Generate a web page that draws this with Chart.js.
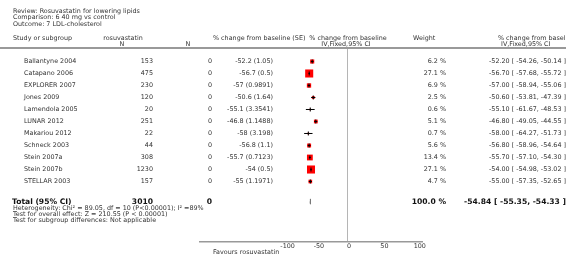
<!DOCTYPE html>
<html>
<head>
<meta charset="utf-8">
<script src="https://cdn.jsdelivr.net/npm/chart.js@4/dist/chart.umd.min.js"></script>
<style>
  html, body { margin:0; padding:0; background:#fff; }
  #wrap { position:relative; width:566px; height:265px; overflow:hidden; }
  #overlay { position:absolute; left:0; top:0; width:566px; height:265px; overflow:hidden; pointer-events:none; }
  .t { position:absolute; white-space:nowrap; font-family:"DejaVu Sans", sans-serif; font-size:6.4px; color:#333; }
  .b { font-weight:bold; font-size:7.6px; color:#111; }
  #hline { position:absolute; left:0; top:47px; width:566px; height:0; border-top:2px solid #999; }
</style>
</head>
<body>
<div id="wrap">
  <canvas id="c" width="566" height="265"></canvas>
  <div id="overlay"><div id="hline"></div></div>
</div>
<script>
// ---- data ----
const studies = ["Ballantyne 2004","Catapano 2006","EXPLORER 2007","Jones 2009","Lamendola 2005","LUNAR 2012","Makariou 2012","Schneck 2003","Stein 2007a","Stein 2007b","STELLAR 2003"];
const rosuN   = [153, 475, 230, 120, 20, 251, 22, 44, 308, 1230, 157];
const ctrlN   = [0, 0, 0, 0, 0, 0, 0, 0, 0, 0, 0];
const est     = [-52.2, -56.7, -57, -50.6, -55.1, -46.8, -58, -56.8, -55.7, -54, -55];
const se      = [1.05, 0.5, 0.9891, 1.64, 3.3541, 1.1488, 3.198, 1.1, 0.7123, 0.5, 1.1971];
const ciLow   = [-54.26, -57.68, -58.94, -53.81, -61.67, -49.05, -64.27, -58.96, -57.10, -54.98, -57.35];
const ciHigh  = [-50.14, -55.72, -55.06, -47.39, -48.53, -44.55, -51.73, -54.64, -54.30, -53.02, -52.65];
const weight  = [6.2, 27.1, 6.9, 2.5, 0.6, 5.1, 0.7, 5.6, 13.4, 27.1, 4.7];
const totalN  = [3010, 0];
const totalEst = -54.84, totalLow = -55.35, totalHigh = -54.33, totalWeight = 100.0;
const tickVals = [-100, -50, 0, 50, 100];

const TOTAL_ROW = 11.67;

// ---- datasets ----
const datasets = [];
// centre ticks (on top)
datasets.push({
  data: est.map((v,i)=>({x:v, y:i})),
  pointStyle:'line', rotation:90, pointRadius:2, borderColor:'#000', borderWidth:1, backgroundColor:'#000', showLine:false
});
// CI lines
est.forEach((v,i)=>{
  datasets.push({
    data:[{x:ciLow[i], y:i},{x:ciHigh[i], y:i}],
    showLine:true, borderColor:'#000', borderWidth:1, pointRadius:0, fill:false
  });
});
// total diamond
datasets.push({
  data:[{x:totalLow,y:TOTAL_ROW},{x:totalEst,y:TOTAL_ROW-0.22},{x:totalHigh,y:TOTAL_ROW},{x:totalEst,y:TOTAL_ROW+0.22},{x:totalLow,y:TOTAL_ROW}],
  showLine:true, borderColor:'#777', borderWidth:1, backgroundColor:'#777', pointRadius:0, fill:'shape', tension:0
});
// red squares (bottom)
datasets.push({
  data: est.map((v,i)=>({x:v, y:i})),
  pointStyle:'rect', showLine:false,
  pointRadius: ctx => (0.5 + 1.45*Math.sqrt(weight[ctx.dataIndex]))/1.414,
  backgroundColor:'#ff0000', borderColor:'#ff0000', borderWidth:0
});

const PX0 = 347, PPU = 0.6667, LEFT = 200, RIGHT = 422;
const chart = new Chart(document.getElementById('c'), {
  type:'scatter',
  data:{ datasets },
  options:{
    responsive:false, animation:false, devicePixelRatio:1,
    layout:{ padding:{ left:LEFT, right:566-RIGHT, top:49, bottom:14 } },
    plugins:{ legend:{display:false}, tooltip:{enabled:false} },
    scales:{
      x:{
        type:'linear',
        min:(LEFT-PX0)/PPU, max:(RIGHT-PX0)/PPU,
        afterBuildTicks: s => { s.ticks = tickVals.map(v=>({value:v})); },
        afterFit: s => { s.height = 9; },
        grid:{ color: c => (c.tick && c.tick.value===0) ? '#b5b5b5' : 'rgba(0,0,0,0)', drawTicks:false, lineWidth:1 },
        border:{ color:'#999', width:1.5 },
        ticks:{ font:{family:'DejaVu Sans', size:6.4}, color:'#333', padding:1, align:'start', maxRotation:0, autoSkip:false }
      },
      y:{ type:'linear', display:false, reverse:true, min:-1.04, max:15.04 }
    }
  }
});

// ---- text ----
const ov = document.getElementById('overlay');
function txt(s, x, y, align, cls){
  const d = document.createElement('div');
  d.className = 't' + (cls ? ' '+cls : '');
  d.textContent = s;
  const lh = 9;
  d.style.lineHeight = lh+'px';
  d.style.top = (y - lh/2) + 'px';
  if(align==='right'){ d.style.right = (566 - x)+'px'; }
  else if(align==='center'){ d.style.left = x+'px'; d.style.transform='translateX(-50%)'; }
  else { d.style.left = x+'px'; }
  ov.appendChild(d);
}
txt("Review:  Rosuvastatin for lowering lipids", 13, 11, 'left');
txt("Comparison:  6 40 mg vs control", 13, 17.5, 'left');
txt("Outcome:  7 LDL-cholesterol", 13, 24, 'left');
txt("Study or subgroup", 13, 38, 'left');
txt("rosuvastatin", 123, 38, 'center');
txt("N", 122, 44, 'center');
txt("N", 188, 44, 'center');
txt("% change from baseline (SE)", 213, 38, 'left');
txt("% change from baseline", 348, 38, 'center');
txt("IV,Fixed,95% CI", 346, 44, 'center');
txt("Weight", 413, 38, 'left');
txt("% change from baseline", 498, 38, 'left');
txt("IV,Fixed,95% CI", 501, 44, 'left');

const ys = chart.scales.y;
studies.forEach((s,i)=>{
  const y = ys.getPixelForValue(i);
  txt(s, 24, y, 'left');
  txt(String(rosuN[i]), 153, y, 'right');
  txt(String(ctrlN[i]), 212, y, 'right');
  txt(String(est[i]) + " (" + String(se[i]) + ")", 273, y, 'right');
  txt(weight[i].toFixed(1) + " %", 446, y, 'right');
  txt(est[i].toFixed(2) + " [ " + ciLow[i].toFixed(2) + ", " + ciHigh[i].toFixed(2) + " ]", 566, y, 'right');
});
const yt = ys.getPixelForValue(TOTAL_ROW);
txt("Total (95% CI)", 12, yt, 'left', 'b');
txt(String(totalN[0]), 153, yt, 'right', 'b');
txt(String(totalN[1]), 212, yt, 'right', 'b');
txt(totalWeight.toFixed(1) + " %", 446, yt, 'right', 'b');
txt(totalEst.toFixed(2) + " [ " + totalLow.toFixed(2) + ", " + totalHigh.toFixed(2) + " ]", 566, yt, 'right', 'b');
txt("Heterogeneity: Chi\u00B2 = 89.05, df = 10 (P<0.00001); I\u00B2 =89%", 13, yt+6.8, 'left');
txt("Test for overall effect: Z = 210.55 (P < 0.00001)", 13, yt+13.1, 'left');
txt("Test for subgroup differences: Not applicable", 13, yt+19.4, 'left');
txt("Favours rosuvastatin", 213, 252, 'left');
</script>
</body>
</html>
